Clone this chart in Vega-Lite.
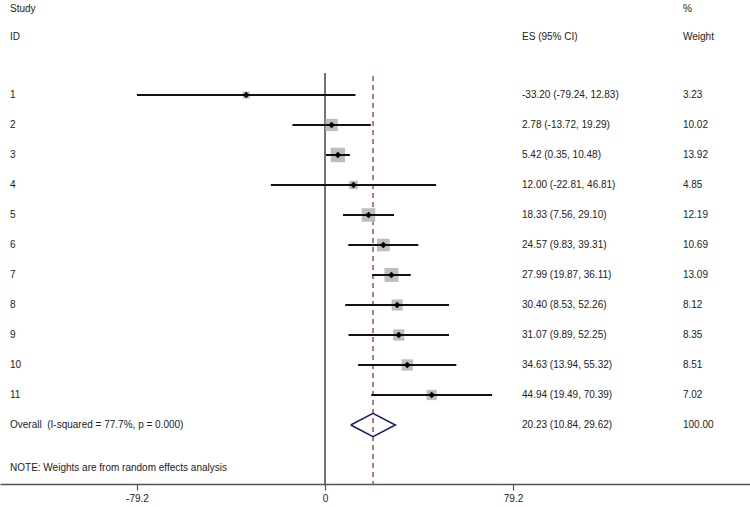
{
  "$schema": "https://vega.github.io/schema/vega-lite/v6.json",
  "width": 750,
  "height": 484,
  "padding": {"left": 0, "top": 0, "right": 0, "bottom": 23},
  "autosize": {"type": "none"},
  "background": "white",
  "config": {
    "view": {"stroke": null},
    "font": "Liberation Sans",
    "text": {"font": "Liberation Sans", "fontSize": 10, "color": "#222222", "align": "left", "baseline": "middle"}
  },
  "datasets": {
    "studies": [
      {"row": 1, "es": -33.20, "lo": -79.24, "hi": 12.83, "w": 3.23},
      {"row": 2, "es": 2.78, "lo": -13.72, "hi": 19.29, "w": 10.02},
      {"row": 3, "es": 5.42, "lo": 0.35, "hi": 10.48, "w": 13.92},
      {"row": 4, "es": 12.00, "lo": -22.81, "hi": 46.81, "w": 4.85},
      {"row": 5, "es": 18.33, "lo": 7.56, "hi": 29.10, "w": 12.19},
      {"row": 6, "es": 24.57, "lo": 9.83, "hi": 39.31, "w": 10.69},
      {"row": 7, "es": 27.99, "lo": 19.87, "hi": 36.11, "w": 13.09},
      {"row": 8, "es": 30.40, "lo": 8.53, "hi": 52.26, "w": 8.12},
      {"row": 9, "es": 31.07, "lo": 9.89, "hi": 52.25, "w": 8.35},
      {"row": 10, "es": 34.63, "lo": 13.94, "hi": 55.32, "w": 8.51},
      {"row": 11, "es": 44.94, "lo": 19.49, "hi": 70.39, "w": 7.02}
    ],
    "overall": [
      {"k": 1, "x": 10.84, "y": 12},
      {"k": 2, "x": 20.23, "y": 11.61},
      {"k": 3, "x": 29.62, "y": 12},
      {"k": 4, "x": 20.23, "y": 12.39},
      {"k": 5, "x": 10.84, "y": 12}
    ],
    "texts": [
      {"row": -1.867, "study": "Study", "ci": "", "weight": "%"},
      {"row": -0.933, "study": "ID", "ci": "ES (95% CI)", "weight": "Weight"},
      {"row": 1, "study": "1", "ci": "-33.20 (-79.24, 12.83)", "weight": "3.23"},
      {"row": 2, "study": "2", "ci": "2.78 (-13.72, 19.29)", "weight": "10.02"},
      {"row": 3, "study": "3", "ci": "5.42 (0.35, 10.48)", "weight": "13.92"},
      {"row": 4, "study": "4", "ci": "12.00 (-22.81, 46.81)", "weight": "4.85"},
      {"row": 5, "study": "5", "ci": "18.33 (7.56, 29.10)", "weight": "12.19"},
      {"row": 6, "study": "6", "ci": "24.57 (9.83, 39.31)", "weight": "10.69"},
      {"row": 7, "study": "7", "ci": "27.99 (19.87, 36.11)", "weight": "13.09"},
      {"row": 8, "study": "8", "ci": "30.40 (8.53, 52.26)", "weight": "8.12"},
      {"row": 9, "study": "9", "ci": "31.07 (9.89, 52.25)", "weight": "8.35"},
      {"row": 10, "study": "10", "ci": "34.63 (13.94, 55.32)", "weight": "8.51"},
      {"row": 11, "study": "11", "ci": "44.94 (19.49, 70.39)", "weight": "7.02"},
      {"row": 12, "study": "Overall\u00a0 (I-squared = 77.7%, p = 0.000)", "ci": "20.23 (10.84, 29.62)", "weight": "100.00"},
      {"row": 13.433, "study": "NOTE: Weights are from random effects analysis", "ci": "", "weight": ""}
    ]
  },
  "layer": [
    {
      "data": {"values": [{"v": 0}]},
      "mark": {"type": "rule", "color": "#444444", "strokeWidth": 1.5},
      "encoding": {
        "x": {"field": "v", "type": "quantitative",
          "scale": {"domain": [-136.92, 179.04], "nice": false, "zero": false},
          "axis": {"values": [-79.2, 0, 79.2], "title": null, "grid": false,
            "labelExpr": "datum.value === 0 ? '0' : (datum.value < 0 ? '-' : '') + format(abs(datum.value), '.1f')",
            "domainColor": "#555555", "domainWidth": 1.5, "tickColor": "#555555", "tickSize": 6, "tickWidth": 1.2,
            "labelFont": "Liberation Sans", "labelFontSize": 10, "labelColor": "#222222", "labelPadding": 3, "labelFlush": false, "labelOverlap": false}},
        "y": {"datum": 0.267, "type": "quantitative",
          "scale": {"domain": [-2.1667, 13.9667], "reverse": true, "nice": false, "zero": false},
          "axis": null},
        "y2": {"datum": 13.967}
      }
    },
    {
      "data": {"values": [{"v": 20.23}]},
      "mark": {"type": "rule", "color": "#a0505c", "strokeWidth": 1.5, "strokeDash": [5, 4]},
      "encoding": {
        "x": {"field": "v", "type": "quantitative"},
        "y": {"datum": 0.367, "type": "quantitative"},
        "y2": {"datum": 13.967}
      }
    },
    {
      "data": {"name": "studies"},
      "mark": {"type": "point", "shape": "square", "filled": true, "color": "#bdbdbd", "opacity": 1},
      "encoding": {
        "x": {"field": "es", "type": "quantitative"},
        "y": {"field": "row", "type": "quantitative"},
        "size": {"field": "w", "type": "quantitative", "scale": {"domain": [0, 14], "range": [0, 210]}, "legend": null}
      }
    },
    {
      "data": {"name": "studies"},
      "mark": {"type": "rule", "color": "#111111", "strokeWidth": 2},
      "encoding": {
        "x": {"field": "lo", "type": "quantitative"},
        "x2": {"field": "hi"},
        "y": {"field": "row", "type": "quantitative"}
      }
    },
    {
      "data": {"name": "studies"},
      "mark": {"type": "point", "shape": "diamond", "filled": true, "color": "#000000", "opacity": 1, "size": 45},
      "encoding": {
        "x": {"field": "es", "type": "quantitative"},
        "y": {"field": "row", "type": "quantitative"}
      }
    },
    {
      "data": {"name": "overall"},
      "mark": {"type": "line", "color": "#1a1f6e", "strokeWidth": 1.6},
      "encoding": {
        "x": {"field": "x", "type": "quantitative"},
        "y": {"field": "y", "type": "quantitative"},
        "order": {"field": "k", "type": "quantitative"}
      }
    },
    {
      "data": {"name": "texts"},
      "mark": {"type": "text"},
      "encoding": {
        "x": {"datum": -132.7, "type": "quantitative"},
        "y": {"field": "row", "type": "quantitative"},
        "text": {"field": "study"}
      }
    },
    {
      "data": {"name": "texts"},
      "mark": {"type": "text"},
      "encoding": {
        "x": {"datum": 83.0, "type": "quantitative"},
        "y": {"field": "row", "type": "quantitative"},
        "text": {"field": "ci"}
      }
    },
    {
      "data": {"name": "texts"},
      "mark": {"type": "text"},
      "encoding": {
        "x": {"datum": 150.8, "type": "quantitative"},
        "y": {"field": "row", "type": "quantitative"},
        "text": {"field": "weight"}
      }
    }
  ]
}
